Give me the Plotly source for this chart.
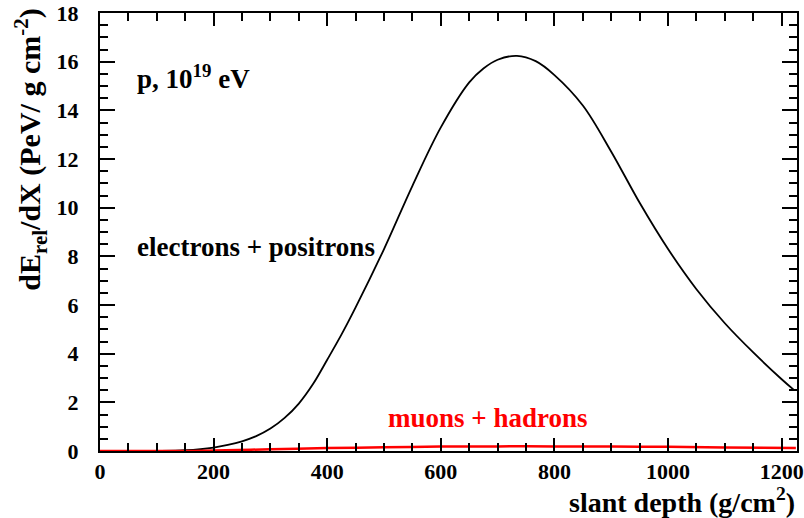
import plotly.graph_objects as go

# electrons + positrons
ep_x = [0, 100, 150, 200, 225, 250, 275, 300, 325, 350, 375, 400, 425, 450, 500, 550, 600, 650, 675, 700, 734,
        767, 800, 850, 900, 950, 1000, 1050, 1100, 1150, 1200, 1221]
ep_y = [0.0, 0.0, 0.03, 0.14, 0.25, 0.4, 0.61, 0.92, 1.36, 1.95, 2.75, 3.75, 4.78, 5.9, 8.3, 10.9, 13.3, 15.15, 15.72, 16.08, 16.24,
        16.02, 15.45, 14.2, 12.3, 10.2, 8.3, 6.65, 5.25, 4.05, 2.95, 2.52]

# muons + hadrons
mh_x = [0, 150, 200, 300, 400, 500, 600, 700, 800, 900, 1000, 1100, 1225]
mh_y = [0.0, 0.0, 0.02, 0.07, 0.12, 0.15, 0.18, 0.19, 0.19, 0.18, 0.17, 0.14, 0.12]

x_ticks = [0, 200, 400, 600, 800, 1000, 1200]
y_ticks = [0, 2, 4, 6, 8, 10, 12, 14, 16, 18]

FONT = "Liberation Serif"

fig = go.Figure()
fig.add_trace(go.Scatter(x=ep_x, y=ep_y, mode="lines",
                         line=dict(color="black", width=1.8, shape="spline", smoothing=1.0), showlegend=False))
fig.add_trace(go.Scatter(x=mh_x, y=mh_y, mode="lines",
                         line=dict(color="red", width=2.5, shape="spline"), showlegend=False))

axis_common = dict(
    showgrid=False, zeroline=False, showline=True, linecolor="black", linewidth=2,
    mirror="allticks", ticks="inside", tickcolor="black", tickwidth=2, automargin=False,
    tickfont=dict(family=FONT, size=22, color="black", weight="bold"),
)

fig.update_xaxes(range=[0, 1227], tickvals=x_ticks, ticktext=[str(v) for v in x_ticks], ticklen=13,
                 minor=dict(dtick=50, ticks="inside", ticklen=8, tickcolor="black", tickwidth=2),
                 ticklabelstandoff=0, **axis_common)
fig.update_yaxes(range=[0, 18], tickvals=y_ticks, ticktext=[str(v) for v in y_ticks], ticklen=15,
                 minor=dict(dtick=0.5, ticks="inside", ticklen=8, tickcolor="black", tickwidth=2),
                 ticklabelstandoff=15, **axis_common)

fig.add_annotation(text="slant depth (g/cm<sup>2</sup>)", xref="paper", yref="paper", x=1.0, y=-0.068,
                   xanchor="right", yanchor="top", showarrow=False,
                   font=dict(family=FONT, size=28, color="black", weight="bold"))
fig.add_annotation(text="dE<sub>rel</sub>/dX (PeV/ g cm<sup>-2</sup>)", xref="paper", yref="paper",
                   x=-0.1, y=1.015, xanchor="center", yanchor="top", textangle=-90, showarrow=False,
                   font=dict(family=FONT, size=30, color="black", weight="bold"))
fig.add_annotation(text="p, 10<sup>19</sup> eV", xref="paper", yref="paper", x=0.05, y=0.855,
                   xanchor="left", yanchor="middle", showarrow=False,
                   font=dict(family=FONT, size=27, color="black", weight="bold"))
fig.add_annotation(text="electrons + positrons", xref="paper", yref="paper", x=0.05, y=0.465,
                   xanchor="left", yanchor="middle", showarrow=False,
                   font=dict(family=FONT, size=27, color="black", weight="bold"))
fig.add_annotation(text="muons + hadrons", xref="paper", yref="paper", x=0.41, y=0.075,
                   xanchor="left", yanchor="middle", showarrow=False,
                   font=dict(family=FONT, size=27, color="red", weight="bold"))

fig.update_layout(width=804, height=518, margin=dict(l=100, r=7, t=13, b=67),
                  plot_bgcolor="white", paper_bgcolor="white")

fig.write_html("out.html", config={"displayModeBar": False},
               post_script="document.body.style.margin='0px';")
